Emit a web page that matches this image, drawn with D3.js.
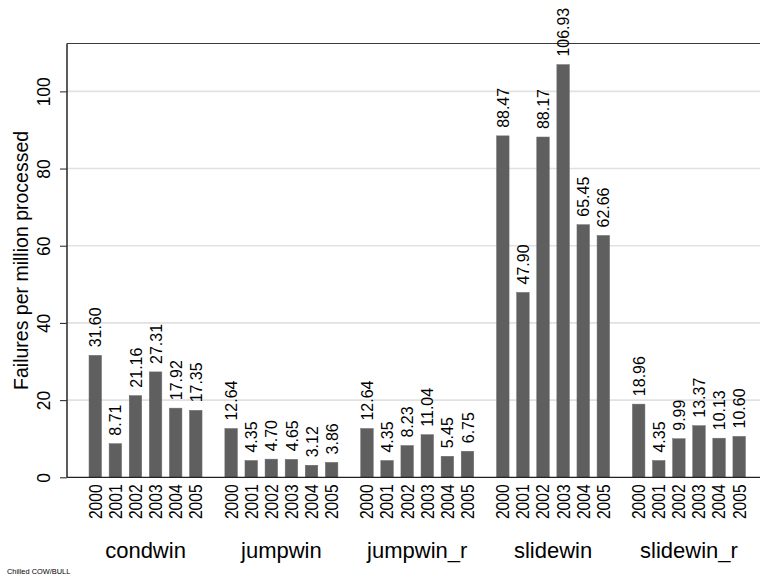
<!DOCTYPE html>
<html>
<head>
<meta charset="utf-8">
<script src="https://cdn.jsdelivr.net/npm/d3@7"></script>
<style>
  html, body { margin: 0; padding: 0; background: #ffffff; }
  svg { display: block; font-family: "Liberation Sans", Arial, Helvetica, sans-serif; }
</style>
</head>
<body>
<svg id="chart" width="760" height="575"></svg>
<script>
// Failure rates per million processed, by window method and year
const methods = ["condwin", "jumpwin", "jumpwin_r", "slidewin", "slidewin_r"];
const years = ["2000", "2001", "2002", "2003", "2004", "2005"];
const condwin    = [31.60, 8.71, 21.16, 27.31, 17.92, 17.35];
const jumpwin    = [12.64, 4.35, 4.70, 4.65, 3.12, 3.86];
const jumpwin_r  = [12.64, 4.35, 8.23, 11.04, 5.45, 6.75];
const slidewin   = [88.47, 47.90, 88.17, 106.93, 65.45, 62.66];
const slidewin_r = [18.96, 4.35, 9.99, 13.37, 10.13, 10.60];
const yTicks = [0, 20, 40, 60, 80, 100];
const yTitle = "Failures per million processed";
const note = "Chilled COW/BULL";

const seriesByMethod = { condwin, jumpwin, jumpwin_r, slidewin, slidewin_r };
const rows = [];
methods.forEach(m => years.forEach((yr, i) => rows.push({ method: m, year: yr, value: seriesByMethod[m][i] })));

const svg = d3.select("#chart");

const plot = { left: 67, top: 43.5, bottom: 477.3, right: 770 };

const y = d3.scaleLinear().domain([0, 112.4]).range([plot.bottom, plot.top]);

// outer band: one slot per method, centred on the group
const x0 = d3.scaleBand().domain(methods).range([77.6, 77.6 + 5 * 135.85]).padding(0);
// inner band: years within a group
const x1 = d3.scaleBand().domain(years).range([0, 113]).paddingInner(0.378).paddingOuter(0);
const groupOffset = (x0.bandwidth() - 113) / 2;
const barX = d => x0(d.method) + groupOffset + x1(d.year);
const barCx = d => barX(d) + x1.bandwidth() / 2;

// grid lines
svg.append("g")
  .selectAll("line")
  .data(yTicks.filter(t => t > 0))
  .join("line")
  .attr("x1", plot.left).attr("x2", plot.right)
  .attr("y1", d => y(d)).attr("y2", d => y(d))
  .attr("stroke", "#e1e1e1").attr("stroke-width", 1.6);

// bars
svg.append("g")
  .selectAll("rect")
  .data(rows)
  .join("rect")
  .attr("x", barX)
  .attr("width", x1.bandwidth())
  .attr("y", d => y(d.value))
  .attr("height", d => y(0) - y(d.value))
  .attr("fill", "#5f5f5f")
  .attr("stroke", "#6a6a6a").attr("stroke-width", 0.5);

// plot frame: top and bottom lines plus left axis
svg.append("line")
  .attr("x1", plot.left).attr("x2", plot.right)
  .attr("y1", plot.top).attr("y2", plot.top)
  .attr("stroke", "#3a3a3a").attr("stroke-width", 1.2);
svg.append("line")
  .attr("x1", plot.left).attr("x2", plot.right)
  .attr("y1", plot.bottom).attr("y2", plot.bottom)
  .attr("stroke", "#222").attr("stroke-width", 1.3);

// y axis
const yAxis = d3.axisLeft(y).tickValues(yTicks).tickSize(7).tickPadding(0).tickFormat(d3.format("d"));
const yg = svg.append("g").attr("transform", `translate(${plot.left},0)`).call(yAxis);
yg.select(".domain").attr("d", `M0,${plot.top}V${plot.bottom}`).attr("stroke", "#333").attr("stroke-width", 1.6);
yg.selectAll(".tick line").attr("stroke", "#333").attr("stroke-width", 1.1);
yg.selectAll(".tick text")
  .attr("x", null).attr("dy", null)
  .attr("transform", "translate(-17.5,0) rotate(-90) scale(0.94,1)")
  .attr("text-anchor", "middle")
  .attr("font-size", "18.5px")
  .attr("font-family", "Liberation Sans, Arial, sans-serif")
  .attr("fill", "#000");

// y title
svg.append("text")
  .attr("transform", `translate(27.5,${(plot.top + plot.bottom) / 2}) rotate(-90)`)
  .attr("text-anchor", "middle")
  .attr("font-size", "19.5px")
  .attr("fill", "#000")
  .text(yTitle);

// value labels above bars
svg.append("g")
  .selectAll("text")
  .data(rows)
  .join("text")
  .attr("transform", d => `translate(${barCx(d) + 6.1},${y(d.value) - 8}) rotate(-90) scale(0.94,1)`)
  .attr("text-anchor", "start")
  .attr("font-size", "17px")
  .attr("fill", "#000")
  .text(d => d.value.toFixed(2));

// year labels under bars
svg.append("g")
  .selectAll("text")
  .data(rows)
  .join("text")
  .attr("transform", d => `translate(${barCx(d) + 6.4},${plot.bottom + 7}) rotate(-90) scale(0.87,1)`)
  .attr("text-anchor", "end")
  .attr("font-size", "18px")
  .attr("fill", "#000")
  .text(d => d.year);

// group labels
svg.append("g")
  .selectAll("text")
  .data(methods)
  .join("text")
  .attr("x", d => x0(d) + x0.bandwidth() / 2)
  .attr("y", 558.3)
  .attr("text-anchor", "middle")
  .attr("font-size", "22px")
  .attr("fill", "#000")
  .text(d => d);

// note
svg.append("text")
  .attr("x", 7).attr("y", 573.5)
  .attr("font-size", "7.4px")
  .attr("fill", "#000")
  .text(note);
</script>
</body>
</html>
